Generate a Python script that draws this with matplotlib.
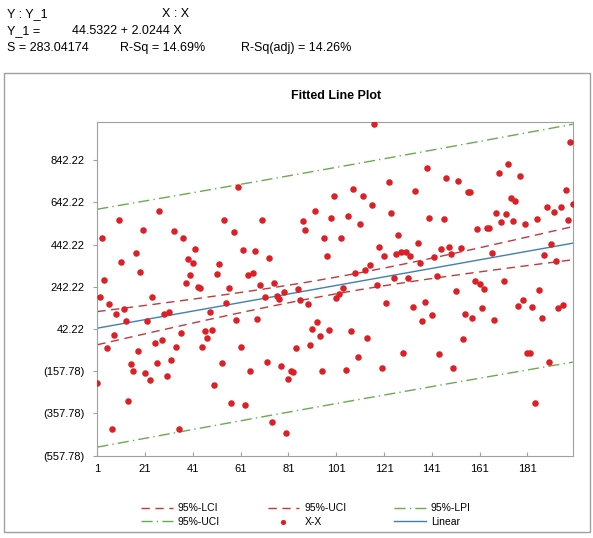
import numpy as np
import matplotlib
matplotlib.use("Agg")
from matplotlib import pyplot as plt
from matplotlib.patches import Rectangle

plt.rcParams['font.family'] = ['Liberation Sans', 'DejaVu Sans']

# regression output shown in the header
intercept = 44.5322
slope = 2.0244
s_value = 283.04174
t_crit = 1.972  # t(0.975, df=198)

# observations, X = 1..200
y_vals = [
    -214, 194, 474, 274, -48, 161, -432, 14, 113, 559,
    360, 137, 82, -299, -124, -157, 404, -62, 312, 511,
    -166, 82, -200, 194, -26, -119, 601, -10, 113, -181,
    124, -105, 507, -43, -432, 23, 474, 260, 374, 298,
    355, 421, 241, 237, -43, 33, 0, 123, 38, -223,
    304, 350, -119, 559, 165, 237, -309, 502, 85, 715,
    -43, 417, -318, 298, -157, 308, 412, 90, 251, 559,
    194, -114, 379, -399, 260, 199, 184, -133, 218, -451,
    -195, -157, -162, -48, 232, 180, 554, 511, 161, -34,
    42, 601, 75, 9, -157, 474, 388, 38, 568, 673,
    189, 210, 475, 237, -152, 578, 33, 706, 308, -91,
    540, 673, 322, 0, 346, 630, 1014, 251, 431, -143,
    388, 165, 739, 592, 284, 398, 488, 407, -72, 407,
    284, 388, 147, 696, 450, 355, 80, 170, 805, 568,
    109, 383, 293, -76, 421, 564, 758, 431, 398, -141,
    222, 744, 428, -4, 113, 692, 692, 94, 270, 516,
    256, 142, 232, 521, 521, 402, 85, 592, 782, 549,
    270, 587, 824, 663, 554, 649, 151, 767, 180, 540,
    -72, -72, 147, -309, 564, 227, 94, 393, 620, -114,
    445, 597, 365, 142, 620, 156, 701, 559, 928, 635,
]
x_vals = np.arange(1, len(y_vals) + 1)

y_ticks = [-557.78, -357.78, -157.78, 42.22, 242.22, 442.22, 642.22, 842.22]
y_labels = ['(557.78)', '(357.78)', '(157.78)', '42.22', '242.22', '442.22', '642.22', '842.22']
x_ticks = [1, 21, 41, 61, 81, 101, 121, 141, 161, 181]

# fitted line and 95% bands
n = len(x_vals)
xbar = x_vals.mean()
sxx = ((x_vals - xbar) ** 2).sum()
fit = intercept + slope * x_vals
ci = t_crit * s_value * np.sqrt(1.0 / n + (x_vals - xbar) ** 2 / sxx)
pi = t_crit * s_value * np.sqrt(1 + 1.0 / n + (x_vals - xbar) ** 2 / sxx)

fig = plt.figure(figsize=(5.93, 5.38), dpi=100)

# header text
hdr = dict(fontsize=9, va='center', ha='left', transform=fig.transFigure)
def fx(px):
    return px / 593.0
def fy(py):
    return 1 - py / 538.0
fig.text(fx(7), fy(14), 'Y : Y_1', **hdr)
fig.text(fx(162), fy(14), 'X : X', **hdr)
fig.text(fx(7), fy(31), 'Y_1 =', **hdr)
fig.text(fx(72), fy(31), '44.5322 + 2.0244 X', **hdr)
fig.text(fx(7), fy(48), 'S = 283.04174', **hdr)
fig.text(fx(120), fy(48), 'R-Sq = 14.69%', **hdr)
fig.text(fx(241), fy(48), 'R-Sq(adj) = 14.26%', **hdr)

fig.patches.append(Rectangle((fx(4), fy(532)), fx(586), 459 / 538.0, transform=fig.transFigure,
                             fill=False, edgecolor='#a0a0a0', linewidth=1))
fig.text(fx(336), fy(96), 'Fitted Line Plot', fontsize=9, fontweight='bold', ha='center', va='center')

ax = fig.add_axes([fx(97.3), fy(455.7), fx(573.3 - 97.3), (455.7 - 121.7) / 538.0])

red = '#c0393b'
green = '#6aaa52'
l_lci, = ax.plot(x_vals, fit - ci, color=red, lw=1, dashes=(6, 4), label='95%-LCI')
l_uci, = ax.plot(x_vals, fit + ci, color=red, lw=1, dashes=(6, 4), label='95%-UCI')
l_lpi, = ax.plot(x_vals, fit - pi, color=green, lw=1, dashes=(8, 3, 1, 3), label='95%-LPI')
l_upi, = ax.plot(x_vals, fit + pi, color=green, lw=1, dashes=(8, 3, 1, 3), label='95%-UCI')
l_fit, = ax.plot(x_vals, fit, color='#3f7fb5', lw=1, label='Linear')
pts = ax.scatter(x_vals, y_vals, s=22, color='#dd1f26', zorder=5, linewidths=0, label='X-X')

ax.set_xlim(1, 200.2)
ax.set_ylim(-557.78, 1025)
ax.set_xticks(x_ticks)
ax.set_yticks(y_ticks)
ax.set_yticklabels(y_labels)
for sp in ax.spines.values():
    sp.set_color('#a0a0a0')
ax.tick_params(axis='x', direction='in', length=3, color='#a0a0a0', labelsize=8, pad=6)
ax.tick_params(axis='y', direction='out', length=3, color='#a0a0a0', labelsize=8, pad=6)

fig.legend([l_lci, l_upi, l_uci, pts, l_lpi, l_fit],
           ['95%-LCI', '95%-UCI', '95%-UCI', 'X-X', '95%-LPI', 'Linear'],
           ncol=3, loc='center', bbox_to_anchor=(fx(306), fy(515)), frameon=False,
           fontsize=7.5, handlelength=3, columnspacing=4.6, handletextpad=0.5,
           labelspacing=0.3, markerscale=0.8)

fig.savefig('out.png', dpi=100)
